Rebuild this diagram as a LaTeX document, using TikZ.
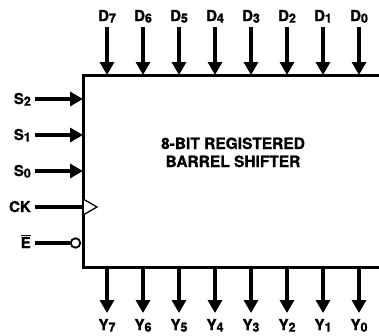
\documentclass[tikz,border=0pt]{standalone}
\usepackage{fontspec}
\setmainfont{TeX Gyre Heros}[BoldFeatures={FakeBold=1.2}]
\usetikzlibrary{arrows.meta}
\newcommand\sbs[1]{\raisebox{-1.6pt}{\fontsize{12.5}{12.5}\selectfont #1}}
\tikzset{
  pin/.style={font=\fontsize{15}{15}\selectfont\bfseries, inner sep=0pt},
  sig/.style={line width=3.2pt, -{Triangle[length=13pt,width=14pt]}, shorten >=-1pt},
  wire/.style={line width=3.2pt},
  frame/.style={draw, line width=3.4pt, inner sep=0pt},
}
\begin{document}
\begin{tikzpicture}[x=1pt,y=-1pt]
\useasboundingbox (0,0) rectangle (379,335);
\clip (0,0) rectangle (379,335);
\node[frame, minimum width=330pt, minimum height=192pt, anchor=north west] (box) at (82,74) {};
\node[font=\fontsize{15.5}{18}\selectfont\bfseries, align=center, anchor=base, inner sep=0pt] (title) at (233,167) {8-BIT REGISTERED\\BARREL SHIFTER};
% data inputs
\foreach \i/\x in {7/107,6/143,5/179,4/215,3/251,2/287,1/323,0/359}{
  \node[pin, anchor=base] (d\i) at (\x,21) {D\sbs{\i}};
  \coordinate (dt\i) at (\x,27);
  \draw[sig] (dt\i) -- (dt\i |- box.north);
  \node[pin, anchor=base] (y\i) at (\x,330) {Y\sbs{\i}};
  \coordinate (yt\i) at (\x,313);
  \draw[sig, shorten >=0pt] (yt\i |- box.south) -- (yt\i);
}
% select inputs
\foreach \i/\y in {2/99,1/135,0/171}{
  \node[pin, anchor=base east] (s\i) at (31,\y+5) {S\sbs{\i}};
  \coordinate (st\i) at (35,\y);
  \draw[sig] (st\i) -- (st\i -| box.west);
}
\node[pin, anchor=base east] (ck) at (31,212) {CK};
\coordinate (ckt) at (35,207);
\draw[wire] (ckt) -- (ckt -| box.west);
\draw[line width=1.3pt, fill=white] (84,199.5) -- (97,207) -- (84,214.5);
\node[pin, anchor=base east] (en) at (31,248) {$\overline{\hbox{E}}$};
\coordinate (ent) at (35,243);
\node[circle, draw, line width=1.8pt, fill=white, minimum size=9.5pt, inner sep=0pt] (bub) at (75.5,243) {};
\draw[wire] (ent) -- (bub.west);
\end{tikzpicture}
\end{document}
